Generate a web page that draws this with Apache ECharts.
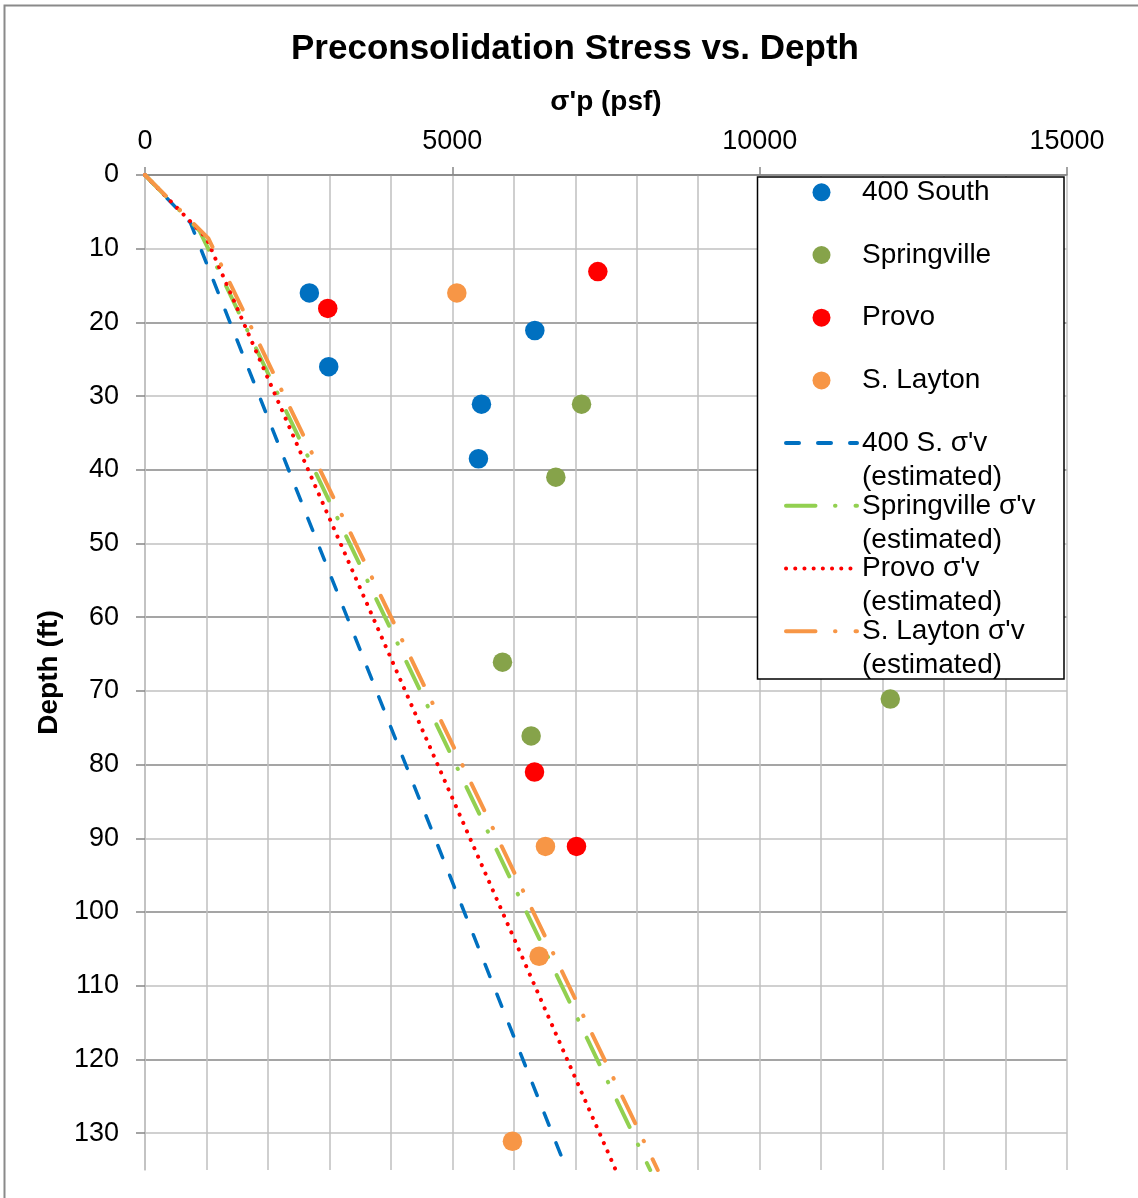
<!DOCTYPE html>
<html>
<head>
<meta charset="utf-8">
<script src="https://cdn.jsdelivr.net/npm/echarts@6/dist/echarts.min.js"></script>
<style>html,body{margin:0;padding:0;background:#fff;}#c{width:1138px;height:1198px;}</style>
</head>
<body>
<div id="c"></div>
<script>
// ---- data ----
const xTickLabels = [0, 5000, 10000, 15000];
const depthTickLabels = [0, 10, 20, 30, 40, 50, 60, 70, 80, 90, 100, 110, 120, 130];

const south400Stress = [2674, 6342, 2989, 5474, 5425];
const south400Depth  = [16.0, 21.1, 26.0, 31.1, 38.5];
const springvilleStress = [7102, 6684, 5816, 12125, 6282];
const springvilleDepth  = [31.1, 41.0, 66.1, 71.1, 76.1];
const provoStress = [7367, 2973, 6337, 7020];
const provoDepth  = [13.1, 18.1, 81.0, 91.1];
const laytonStress = [5073, 6515, 6412, 5978];
const laytonDepth  = [16.0, 91.1, 106.0, 131.1];

const south400SvStress = [0, 740, 6862];
const south400SvDepth  = [0, 6.5, 135];
const springvilleSvStress = [0, 890, 8219];
const springvilleSvDepth  = [0, 7.6, 135];
const provoSvStress = [0, 995, 7658];
const provoSvDepth  = [0, 8.5, 135];
const laytonSvStress = [0, 1031, 8342];
const laytonSvDepth  = [0, 8.6, 135];

const pts = (xs, ys) => xs.map((x, i) => [x, ys[i]]);

const FONT = '"Liberation Sans", Arial, sans-serif';
const chart = echarts.init(document.getElementById('c'), null, {renderer: 'canvas'});

const BLUE = '#0070C0', OLIVE = '#86A34A', RED = '#FF0000', ORANGE = '#F79646', LGREEN = '#92D050';
const DASH_LONG = [13, 19];
const DASH_LDD = [29.5, 19.5, 0.5, 20];
const DASH_DOT = [0.1, 9.1];

function scatter(name, xs, ys, color) {
  return {name, type: 'scatter', data: pts(xs, ys), symbol: 'circle', symbolSize: 19.5,
    itemStyle: {color, opacity: 1}, z: 3};
}
function line(name, xs, ys, color, width, dash) {
  return {name, type: 'line', data: pts(xs, ys), symbol: 'none', showSymbol: false,
    lineStyle: {color, width, type: dash, cap: 'round'}, itemStyle: {color}, z: 2, animation: false};
}

const n400 = "400 S. σ'v (estimated)";
const nSpr = "Springville σ'v (estimated)";
const nPro = "Provo σ'v (estimated)";
const nLay = "S. Layton σ'v (estimated)";

function legLine(name, color, width, dash) {
  return {name, itemStyle: {opacity: 0},
    lineStyle: {color, width, type: dash, cap: 'round', opacity: 1}};
}

chart.setOption({
  animation: false,
  backgroundColor: '#fff',
  textStyle: {fontFamily: FONT},
  title: {
    text: 'Preconsolidation Stress vs. Depth',
    left: 286, top: 27,
    textStyle: {fontFamily: FONT, fontSize: 35, fontWeight: 'bold', color: '#000'}
  },
  grid: {left: 145, top: 175, width: 922, height: 995, containLabel: false},
  xAxis: {
    type: 'value', position: 'top', min: 0, max: 15000, interval: 5000,
    name: "σ'p (psf)", nameLocation: 'middle', nameGap: 59,
    nameTextStyle: {fontFamily: FONT, fontSize: 28, fontWeight: 'bold', color: '#000'},
    axisLine: {show: true, lineStyle: {color: '#868686', width: 1.5}},
    axisTick: {show: true, inside: false, length: 8, lineStyle: {color: '#868686', width: 1.5}},
    axisLabel: {fontFamily: FONT, fontSize: 27, color: '#000', margin: 20,
      formatter: v => (xTickLabels.indexOf(v) >= 0 ? String(v) : '')},
    splitLine: {show: true, lineStyle: {color: '#c0c0c0', width: 1.5}},
    minorTick: {show: false, splitNumber: 5},
    minorSplitLine: {show: true, lineStyle: {color: '#c0c0c0', width: 1.5}}
  },
  yAxis: {
    type: 'value', inverse: true, min: 0, max: 135, interval: 5,
    name: 'Depth (ft)', nameLocation: 'middle', nameGap: 82, nameRotate: 90,
    nameTextStyle: {fontFamily: FONT, fontSize: 28, fontWeight: 'bold', color: '#000'},
    axisLine: {show: true, lineStyle: {color: '#bfbfbf', width: 1.5}},
    axisTick: {show: true, inside: false, length: 9, customValues: depthTickLabels,
      lineStyle: {color: '#868686', width: 1.5}},
    axisLabel: {fontFamily: FONT, fontSize: 27, color: '#000', margin: 26,
      formatter: v => (depthTickLabels.indexOf(v) >= 0 ? String(v) : '')},
    splitLine: {show: true, lineStyle: {color: ['#878787', '#c0c0c0'], width: 1.5}}
  },
  legend: {
    orient: 'vertical', left: 784, top: 141.3, padding: 0, itemGap: -39.3,
    itemWidth: 71, itemHeight: 18, selectedMode: false, z: 5,
    textStyle: {fontFamily: FONT, fontSize: 28, lineHeight: 34, color: '#000'},
    formatter: name => {
      const m = name.match(/^(.*) \(estimated\)$/);
      return m ? '\n' + m[1] + '\n(estimated)' : '\n' + name + '\n';
    },
    data: [
      {name: '400 South', icon: 'circle'},
      {name: 'Springville', icon: 'circle'},
      {name: 'Provo', icon: 'circle'},
      {name: 'S. Layton', icon: 'circle'},
      legLine(n400, BLUE, 4, DASH_LONG),
      legLine(nSpr, LGREEN, 4, DASH_LDD),
      legLine(nPro, RED, 4, DASH_DOT),
      legLine(nLay, ORANGE, 4, DASH_LDD)
    ]
  },
  graphic: [
    {type: 'rect', shape: {x: 4.5, y: 5.5, width: 1200, height: 1220},
      style: {fill: 'none', stroke: '#8a8a8a', lineWidth: 2}, z: 0, silent: true},
    {type: 'rect', shape: {x: 757.5, y: 177, width: 306.5, height: 502},
      style: {fill: '#fff', stroke: '#000', lineWidth: 1.5}, z: 4, silent: true}
  ],
  series: [
    scatter('400 South', south400Stress, south400Depth, BLUE),
    scatter('Springville', springvilleStress, springvilleDepth, OLIVE),
    scatter('Provo', provoStress, provoDepth, RED),
    scatter('S. Layton', laytonStress, laytonDepth, ORANGE),
    line(n400, south400SvStress, south400SvDepth, BLUE, 3.5, DASH_LONG),
    line(nSpr, springvilleSvStress, springvilleSvDepth, LGREEN, 4, DASH_LDD),
    line(nPro, provoSvStress, provoSvDepth, RED, 4, DASH_DOT),
    line(nLay, laytonSvStress, laytonSvDepth, ORANGE, 4, DASH_LDD)
  ]
});
</script>
</body>
</html>
